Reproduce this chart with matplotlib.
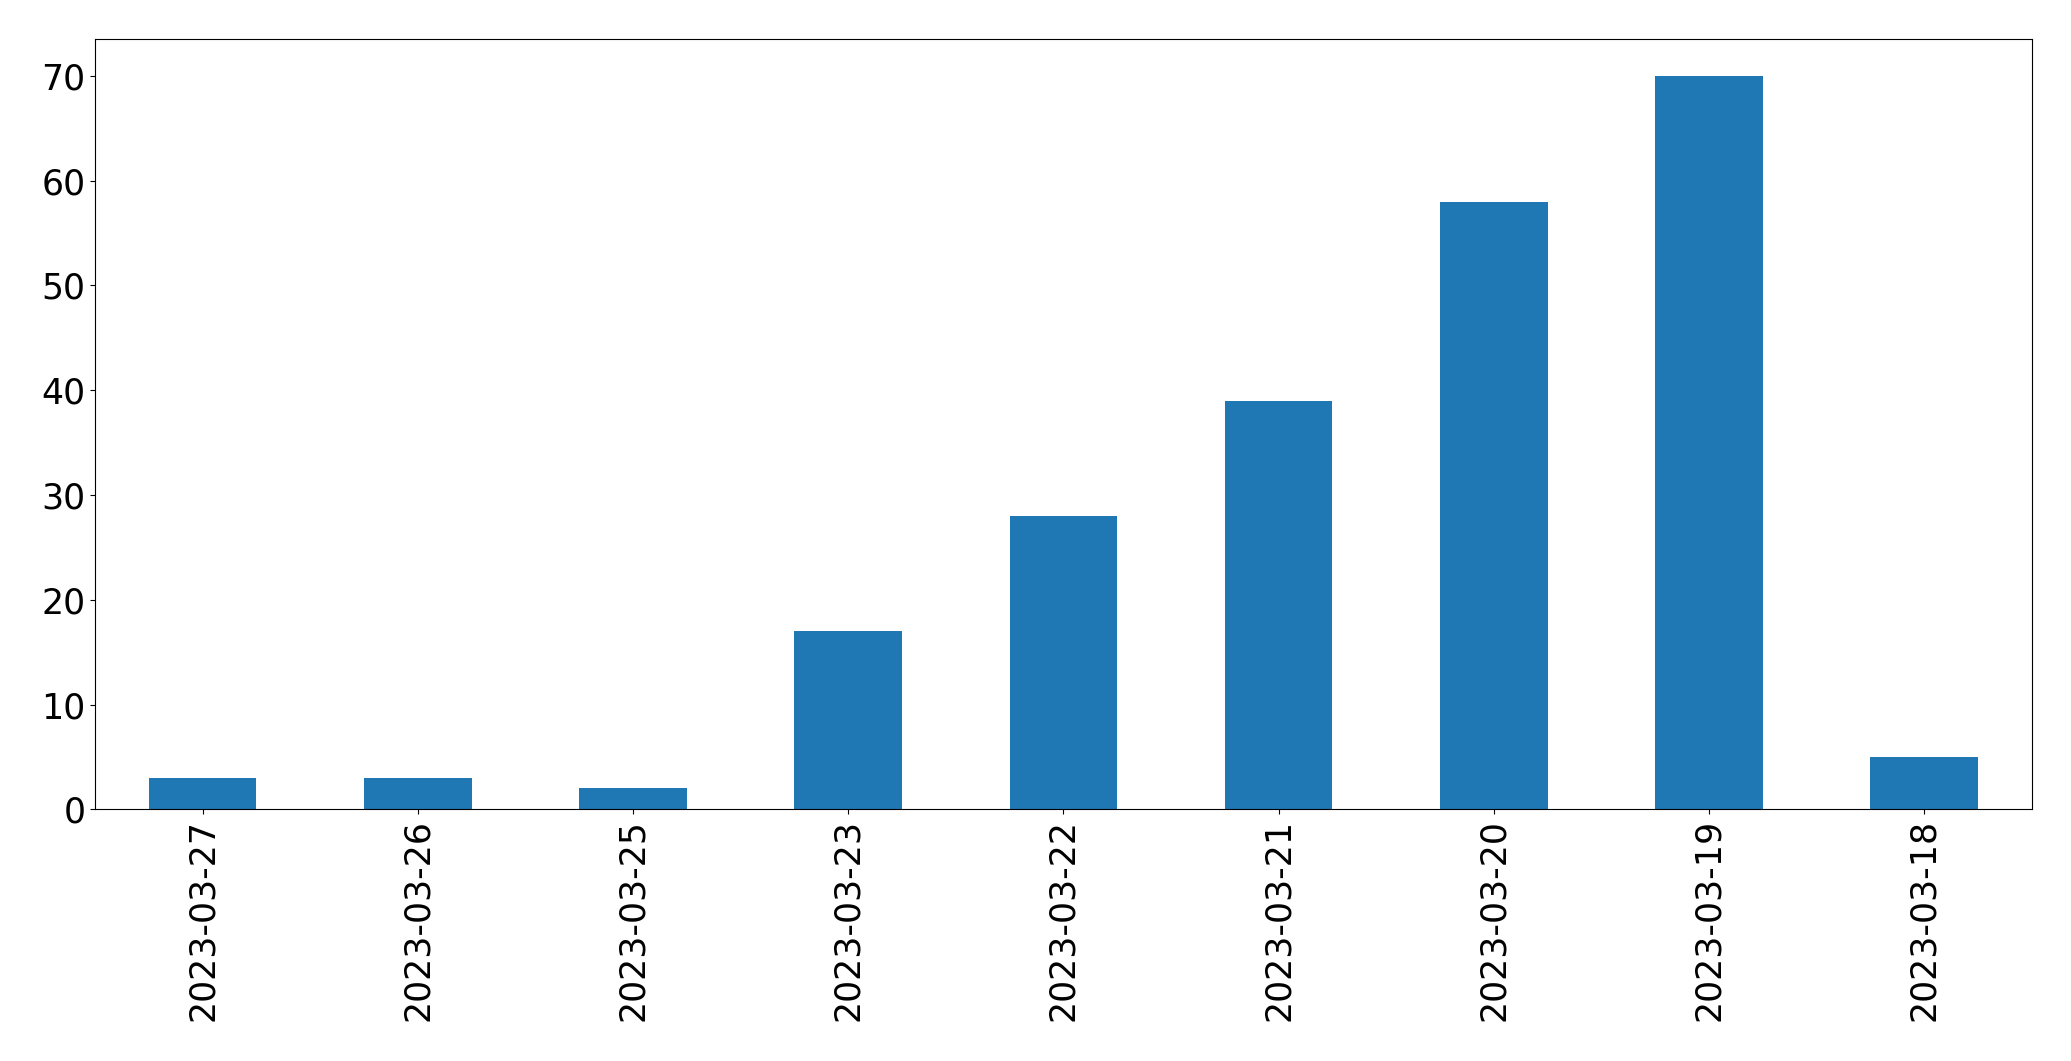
import matplotlib
matplotlib.use("Agg")
import matplotlib.pyplot as plt

dates = ["2023-03-27", "2023-03-26", "2023-03-25", "2023-03-23", "2023-03-22",
         "2023-03-21", "2023-03-20", "2023-03-19", "2023-03-18"]
counts = [3, 3, 2, 17, 28, 39, 58, 70, 5]

fig = plt.figure(figsize=(20.71, 10.61), dpi=100)
ax = fig.add_axes([0.0459, 0.2372, 0.9352, 0.7258])

x = range(len(dates))
ax.bar(x, counts, width=0.5, color="#1f77b4")
ax.set_xlim(-0.5, len(dates) - 0.5)
ax.set_ylim(0, max(counts) * 1.05)
ax.set_xticks(list(x))
ax.set_xticklabels(dates, rotation=90)
ax.tick_params(labelsize=25)

fig.savefig("out.png", dpi=100)
